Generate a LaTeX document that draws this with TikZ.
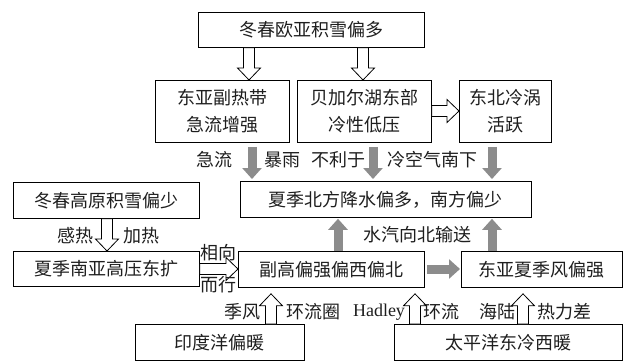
\documentclass[tikz,border=0pt]{standalone}
\usepackage{fontspec}
\setmainfont{Liberation Serif}
\newfontfamily\cjk{Noto Sans CJK SC}
\usetikzlibrary{arrows.meta,calc}
\definecolor{arrgray}{RGB}{140,140,140}
\definecolor{txt}{RGB}{30,30,30}
\tikzset{
 box/.style={draw=black, line width=0.8pt, inner sep=0pt, anchor=north west, align=center,
   font=\cjk\fontsize{18}{27}\selectfont, text=txt},
 lbl/.style={inner sep=0pt, font=\cjk\fontsize{18}{21}\selectfont, text=txt},
 hollowarr/.style={draw=black, line width=0.8pt, fill=white, line join=miter},
 grayarr/.style={draw=arrgray, line width=9pt, -{Triangle[width=19pt,length=11pt]}},
}
\newcommand\hdown[2]{\draw[hollowarr] let \p1=(#1), \p2=(#2) in
 (\x1-5.5pt,\y1) -- (\x1-5.5pt,\y2+12pt) -- (\x1-11.5pt,\y2+12pt) -- (\x1,\y2) --
 (\x1+11.5pt,\y2+12pt) -- (\x1+5.5pt,\y2+12pt) -- (\x1+5.5pt,\y1) -- cycle;}
\newcommand\hup[2]{\draw[hollowarr] let \p1=(#1), \p2=(#2) in
 (\x1-5.5pt,\y1) -- (\x1-5.5pt,\y2-12pt) -- (\x1-11.5pt,\y2-12pt) -- (\x1,\y2) --
 (\x1+11.5pt,\y2-12pt) -- (\x1+5.5pt,\y2-12pt) -- (\x1+5.5pt,\y1) -- cycle;}
\newcommand\hright[2]{\draw[hollowarr] let \p1=(#1), \p2=(#2) in
 (\x1,\y1+5.5pt) -- (\x2-12pt,\y1+5.5pt) -- (\x2-12pt,\y1+11.5pt) -- (\x2,\y1) --
 (\x2-12pt,\y1-11.5pt) -- (\x2-12pt,\y1-5.5pt) -- (\x1,\y1-5.5pt) -- cycle;}
\begin{document}
\begin{tikzpicture}[x=1pt,y=-1pt]
\useasboundingbox (0,0) rectangle (624,361);
% boxes
\node[box, minimum width=226pt, minimum height=35pt] (top) at (198,12) {冬春欧亚积雪偏多};
\node[box, minimum width=134pt, minimum height=62pt] (A) at (155,80) {东亚副热带\\急流增强};
\node[box, minimum width=134pt, minimum height=62pt] (B) at (297,80) {贝加尔湖东部\\冷性低压};
\node[box, minimum width=92pt, minimum height=62pt] (C) at (459,80) {东北冷涡\\活跃};
\node[box, minimum width=291pt, minimum height=36pt] (summer) at (240,181) {夏季北方降水偏多，南方偏少};
\node[box, minimum width=186pt, minimum height=36pt] (plateau) at (13,182) {冬春高原积雪偏少};
\node[box, minimum width=186pt, minimum height=35pt] (SAH) at (13,251) {夏季南亚高压东扩};
\node[box, minimum width=186pt, minimum height=36pt] (WPSH) at (238,251) {副高偏强偏西偏北};
\node[box, minimum width=161pt, minimum height=36pt] (EASM) at (461,251) {东亚夏季风偏强};
\node[box, minimum width=169pt, minimum height=35.5pt] (Indian) at (135,324) {印度洋偏暖};
\node[box, minimum width=228pt, minimum height=35.5pt] (Pacific) at (394,324) {太平洋东冷西暖};
% reference coordinates
\coordinate (xa) at (249,0);
\coordinate (xb) at (363,0);
\coordinate (g1) at (252,0);
\coordinate (g2) at (373,0);
\coordinate (g3) at (492,0);
\coordinate (xp) at (107,0);
\coordinate (gu1) at (338,0);
\coordinate (gu2) at (492,0);
\coordinate (h1) at (271,0);
\coordinate (h2) at (415,0);
\coordinate (h3) at (523,0);
\coordinate (yb) at (0,111);
\coordinate (ym) at (0,269);
% hollow arrows
\hdown{xa |- top.south}{xa |- A.north}
\hdown{xb |- top.south}{xb |- B.north}
\hright{B.east |- yb}{C.west |- yb}
\hdown{xp |- plateau.south}{xp |- SAH.north}
\hright{SAH.east |- ym}{WPSH.west |- ym}
\hup{h1 |- Indian.north}{$(h1 |- WPSH.south)+(0,6)$}
\hup{h2 |- Pacific.north}{$(h2 |- WPSH.south)+(0,6)$}
\hup{h3 |- Pacific.north}{$(h3 |- EASM.south)+(0,6)$}
% grey arrows
\draw[grayarr] ($(g1 |- A.south)+(0,4)$) -- ($(g1 |- summer.north)+(0,-2)$);
\draw[grayarr] ($(g2 |- B.south)+(0,4)$) -- ($(g2 |- summer.north)+(0,-2)$);
\draw[grayarr] ($(g3 |- C.south)+(0,4)$) -- ($(g3 |- summer.north)+(0,-2)$);
\draw[grayarr] (gu1 |- WPSH.north) -- ($(gu1 |- summer.south)+(0,1)$);
\draw[grayarr] (gu2 |- EASM.north) -- ($(gu2 |- summer.south)+(0,1)$);
\draw[grayarr] ($(WPSH.east |- ym)+(2,0)$) -- ($(EASM.west |- ym)+(-1,0)$);
% labels
\node[lbl] (l1) at (214,160) {急流};
\node[lbl] (l2) at (282,160) {暴雨};
\node[lbl] (l3) at (338,160) {不利于};
\node[lbl] (l4) at (432,160) {冷空气南下};
\node[lbl] (l5) at (75,236) {感热};
\node[lbl] (l6) at (141,236) {加热};
\node[lbl] (l7) at (218,253) {相向};
\node[lbl] (l8) at (218,285) {而行};
\node[lbl] (l9) at (417,235) {水汽向北输送};
\node[lbl] (l10) at (242,312) {季风};
\node[lbl] (l11) at (313,312) {环流圈};
\node[lbl, font=\fontsize{18}{21}\selectfont] (l12) at (379,312) {Hadley};
\node[lbl] (l13) at (441,312) {环流};
\node[lbl] (l14) at (497,312) {海陆};
\node[lbl] (l15) at (564,312) {热力差};
\end{tikzpicture}
\end{document}
